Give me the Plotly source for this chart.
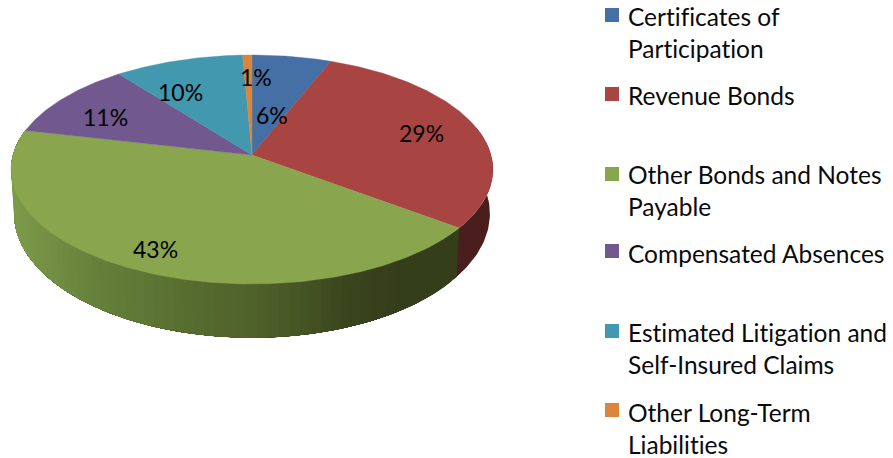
import numpy as np
import plotly.graph_objects as go

categories = ["Certificates of Participation", "Revenue Bonds", "Other Bonds and Notes Payable",
              "Compensated Absences", "Estimated Litigation and Self-Insured Claims", "Other Long-Term Liabilities"]
legend_lines = [["Certificates of", "Participation"], ["Revenue Bonds"], ["Other Bonds and Notes", "Payable"],
                ["Compensated Absences"], ["Estimated Litigation and", "Self-Insured Claims"],
                ["Other Long-Term", "Liabilities"]]
shares = [6.0, 29.2, 43.4, 10.9, 9.8, 0.7]
colors = ["#4470A5", "#A84542", "#89A54E", "#71588F", "#4198AF", "#DB843D"]

# Pixel-space projection of the tilted disc (top face and bottom rim)
TOP = dict(cx=252, cy=155, A=239, B=112.7, p=0.1266)
BOT = dict(cx=252, cy=198, A=236, B=122, p=0.1266)
LABEL_X = [272, 421, 155, 105, 180, 256]
LABEL_Y = [115, 133, 249, 117, 92, 77]
LEGEND_Y = [15, 94, 174, 251, 331, 410]
TEXT_Y = [0, 78.5, 157.5, 237, 316, 395.5]
GREEN_STOPS = ([14, 60, 100, 150, 200, 250, 300, 350, 400, 460],
               [(124, 155, 74), (112, 140, 66), (101, 128, 58), (94, 118, 52), (86, 107, 47),
                (80, 99, 43), (70, 86, 37), (58, 68, 30), (54, 62, 28), (52, 62, 27)])
RED_WALL = (74, 30, 28)
NOLIG = '<span style="font-variant-ligatures:none;font-feature-settings:\'liga\' 0">%s</span>'


def project(theta_deg, g, r=1.0):
    t = np.radians(theta_deg)
    w = 1 + g["p"] * r * np.cos(t)
    return g["cx"] + g["A"] * r * np.sin(t) / w, g["cy"] - g["B"] * r * np.cos(t) / w


edges = 360 * np.cumsum([0] + shares) / sum(shares)
fig = go.Figure()


def wall(t0, t1, color):
    th = np.linspace(t0, t1, max(2, int(abs(t1 - t0)) + 2))
    x0, y0 = project(th, TOP)
    x1, y1 = project(th[::-1], BOT)
    xs = list(x0) + list(x1) + [x0[0]]
    ys = list(y0) + list(y1) + [y0[0]]
    fig.add_trace(go.Scatter(x=xs, y=ys, mode="lines", fill="toself", fillcolor=color,
                             line=dict(width=0), hoverinfo="skip", showlegend=False))


# Side wall of the Revenue Bonds slice
wall(75, edges[2] + 1, "rgb(%d,%d,%d)" % RED_WALL)
# Side wall of the Other Bonds slice, shaded across the width; each band runs to the
# slice's end and is painted over by the next one, so no seams appear between bands
sx, sc = GREEN_STOPS
sc = np.array(sc, float)
steps = np.linspace(edges[2], edges[3], 70)
for a, b in zip(steps[:-1], steps[1:]):
    xm = project((a + b) / 2, TOP)[0]
    c = [np.interp(xm, sx, sc[:, i]) for i in range(3)]
    wall(a, edges[3], "rgb(%d,%d,%d)" % tuple(c))

# Top face
for i, name in enumerate(categories):
    th = np.linspace(edges[i], edges[i + 1], max(4, int((edges[i + 1] - edges[i]) * 1.5)))
    x, y = project(th, TOP)
    xs = [TOP["cx"]] + list(x) + [TOP["cx"]]
    ys = [TOP["cy"]] + list(y) + [TOP["cy"]]
    fig.add_trace(go.Scatter(x=xs, y=ys, name=name, mode="lines", fill="toself", fillcolor=colors[i],
                             line=dict(color=colors[i], width=0.4), hoverinfo="name", showlegend=False))

# Legend keys
fig.add_trace(go.Scatter(x=[612] * 6, y=LEGEND_Y, mode="markers", hoverinfo="skip", showlegend=False,
                         marker=dict(symbol="square", size=14, color=colors, line=dict(width=0))))

ann = []
for i, s in enumerate(shares):
    ann.append(dict(x=LABEL_X[i], y=LABEL_Y[i], text=f"{round(s)}%", showarrow=False, xref="x", yref="y",
                    font=dict(family="Lato", size=23, color="#000000")))
    text = "<br>".join(NOLIG % line for line in legend_lines[i])
    ann.append(dict(x=629, y=TEXT_Y[i], text=text, showarrow=False, xref="x", yref="y",
                    xanchor="left", yanchor="top", align="left", xshift=-3,
                    font=dict(family="Lato", size=24.5, color="#0a0a0a")))

fig.update_layout(width=893, height=458, margin=dict(l=0, r=0, t=0, b=0), autosize=False,
                  paper_bgcolor="white", plot_bgcolor="white", annotations=ann, showlegend=False,
                  xaxis=dict(range=[0, 893], visible=False, fixedrange=True),
                  yaxis=dict(range=[458, 0], visible=False, fixedrange=True))
fig.write_html("out.html", config=dict(displayModeBar=False),
               post_script="document.body.style.margin='0';")
